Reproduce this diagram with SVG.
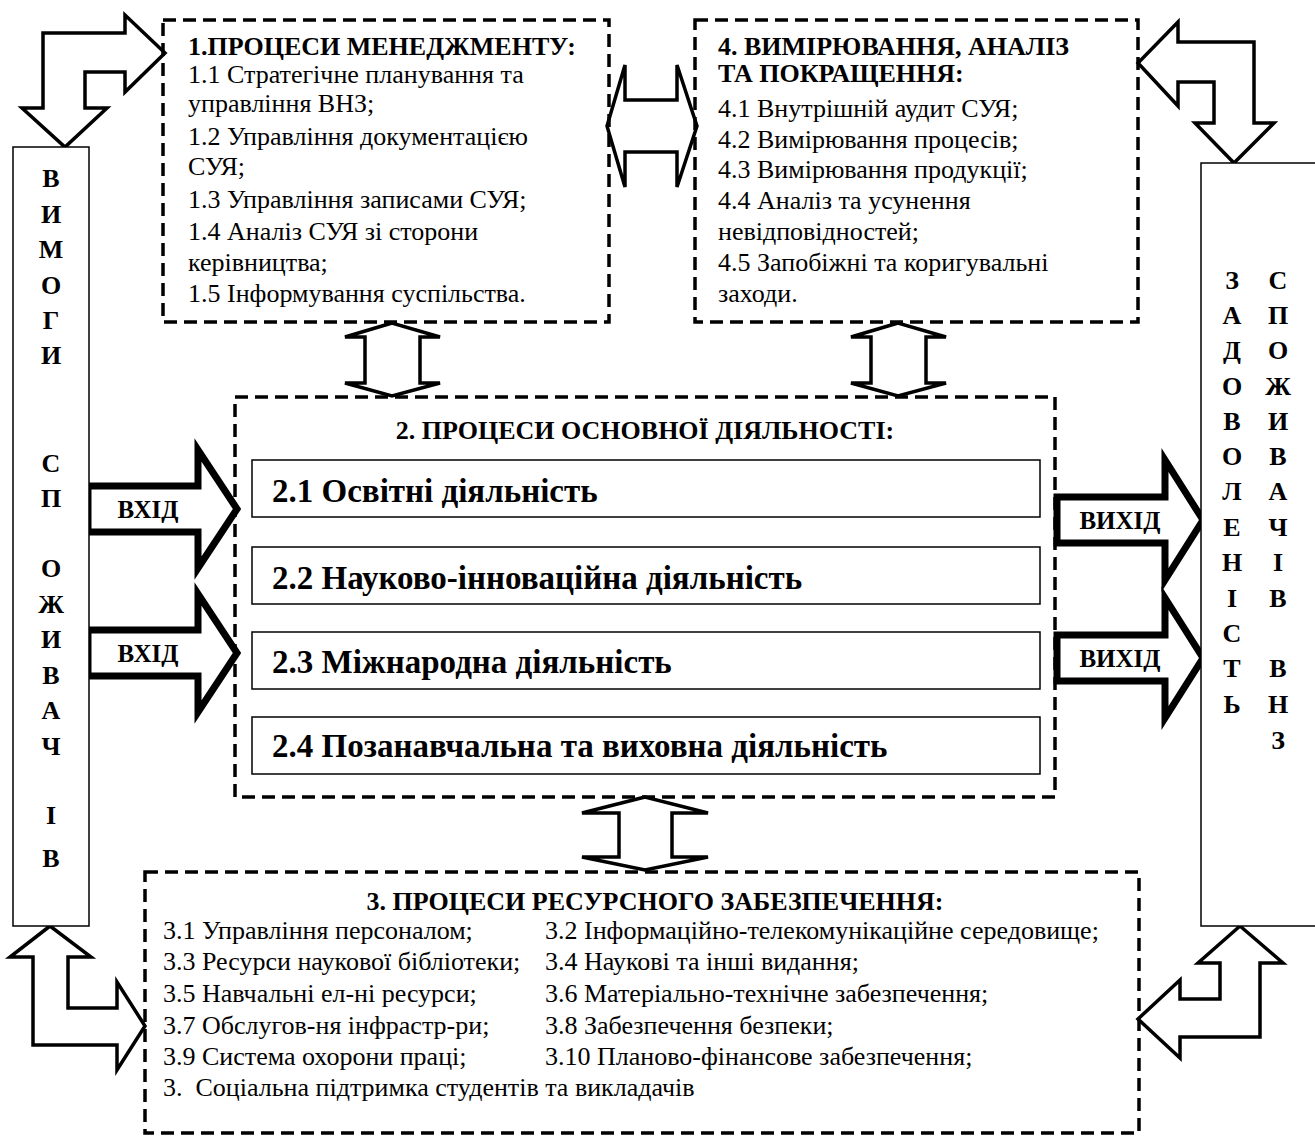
<svg xmlns="http://www.w3.org/2000/svg" width="1315" height="1141" viewBox="0 0 1315 1141">
<style>
.dash{fill:none;stroke:#000;stroke-width:3.5;stroke-dasharray:13 7}
.box{fill:#fff;stroke:#000;stroke-width:1.5}
.arr{fill:#fff;stroke:#000;stroke-width:3.5;stroke-linejoin:miter}
.thick{fill:#fff;stroke:#000;stroke-width:7;stroke-linejoin:miter}
text{font-family:"Liberation Serif","Times New Roman",serif;fill:#000}
.t{font-size:26px}
.b{font-size:26px;font-weight:bold}
.big{font-size:33px;font-weight:bold}
.v{font-size:26px;font-weight:bold;text-anchor:middle}
.arlbl{font-size:25px;font-weight:bold;text-anchor:middle}
</style>
<rect width="1315" height="1141" fill="#fff"/>

<g id="connectors">
  <path class="arr" d="M43,33 H125 V15 L165,53 L125,92 V72 H85 V108 H107 L65,147 L22,108 H43 Z"/>
  <path class="arr" d="M1178,22 L1138,63 L1178,106 V82 H1214 V123 H1195 L1234,163 L1274,123 H1254 V42 H1178 Z"/>
  <path class="arr" d="M50,926 L10,957 H33 V1045 H117 V1070 L145,1026 L117,982 V1008 H68 V957 H91 Z"/>
  <path class="arr" d="M1240,926 L1283,963 H1260 V1037 H1180 V1058 L1138,1019 L1180,980 V999 H1220 V963 H1198 Z"/>
  <path class="arr" d="M607,126 L625,65 V100 H677 V65 L697,126 L677,187 V152 H625 V187 Z"/>
  <path class="arr" d="M392,323 L345,337 H365 V383 H345 L392,396 L440,383 H420 V337 H440 Z"/>
  <path class="arr" d="M898,323 L851,337 H871 V383 H851 L898,396 L946,383 H926 V337 H946 Z"/>
  <path class="arr" d="M645,797 L582,813 H619 V857 H582 L645,870 L708,857 H672 V813 H708 Z"/>
  <path class="thick" d="M88,486 H198 V450 L237,509 L198,568 V532 H88 Z"/>
  <path class="thick" d="M88,630 H198 V594 L237,653 L198,712 V676 H88 Z"/>
  <path class="thick" d="M1057,497 H1165 V460 L1203,520 L1165,580 V543 H1057 Z"/>
  <path class="thick" d="M1057,635 H1165 V598 L1203,658 L1165,718 V681 H1057 Z"/>
  <text class="arlbl" x="148" y="518">ВХІД</text>
  <text class="arlbl" x="148" y="662">ВХІД</text>
  <text class="arlbl" x="1120" y="529">ВИХІД</text>
  <text class="arlbl" x="1120" y="667">ВИХІД</text>
</g>

<g id="node-customers-req">
  <rect class="box" x="13" y="147" width="76" height="779"/>
  <text class="v" x="51" y="187">В</text>
  <text class="v" x="51" y="223">И</text>
  <text class="v" x="51" y="258">М</text>
  <text class="v" x="51" y="294">О</text>
  <text class="v" x="51" y="329">Г</text>
  <text class="v" x="51" y="364">И</text>
  <text class="v" x="51" y="472">С</text>
  <text class="v" x="51" y="507">П</text>
  <text class="v" x="51" y="577">О</text>
  <text class="v" x="51" y="613">Ж</text>
  <text class="v" x="51" y="648">И</text>
  <text class="v" x="51" y="684">В</text>
  <text class="v" x="51" y="719">А</text>
  <text class="v" x="51" y="755">Ч</text>
  <text class="v" x="51" y="824">І</text>
  <text class="v" x="51" y="867">В</text>
</g>

<g id="node-satisfaction">
  <rect class="box" x="1201" y="163" width="130" height="763"/>
  <text class="v" x="1232" y="289">З</text><text class="v" x="1278" y="289">С</text>
  <text class="v" x="1232" y="324">А</text><text class="v" x="1278" y="324">П</text>
  <text class="v" x="1232" y="359">Д</text><text class="v" x="1278" y="359">О</text>
  <text class="v" x="1232" y="395">О</text><text class="v" x="1278" y="395">Ж</text>
  <text class="v" x="1232" y="430">В</text><text class="v" x="1278" y="430">И</text>
  <text class="v" x="1232" y="465">О</text><text class="v" x="1278" y="465">В</text>
  <text class="v" x="1232" y="500">Л</text><text class="v" x="1278" y="500">А</text>
  <text class="v" x="1232" y="536">Е</text><text class="v" x="1278" y="536">Ч</text>
  <text class="v" x="1232" y="571">Н</text><text class="v" x="1278" y="571">І</text>
  <text class="v" x="1232" y="607">І</text><text class="v" x="1278" y="607">В</text>
  <text class="v" x="1232" y="642">С</text>
  <text class="v" x="1232" y="677">Т</text><text class="v" x="1278" y="677">В</text>
  <text class="v" x="1232" y="713">Ь</text><text class="v" x="1278" y="713">Н</text>
  <text class="v" x="1278" y="749">З</text>
</g>

<g id="node-management">
  <rect class="dash" x="163" y="20" width="446" height="302"/>
  <text class="b" x="188" y="55">1.ПРОЦЕСИ МЕНЕДЖМЕНТУ:</text>
  <text class="t" x="188" y="83">1.1 Стратегічне планування та</text>
  <text class="t" x="188" y="112">управління ВНЗ;</text>
  <text class="t" x="188" y="145">1.2 Управління документацією</text>
  <text class="t" x="188" y="175">СУЯ;</text>
  <text class="t" x="188" y="208">1.3 Управління записами СУЯ;</text>
  <text class="t" x="188" y="240">1.4 Аналіз СУЯ зі сторони</text>
  <text class="t" x="188" y="271">керівництва;</text>
  <text class="t" x="188" y="302">1.5 Інформування суспільства.</text>
</g>

<g id="node-measurement">
  <rect class="dash" x="695" y="20" width="443" height="302"/>
  <text class="b" x="718" y="55">4. ВИМІРЮВАННЯ, АНАЛІЗ</text>
  <text class="b" x="718" y="82">ТА ПОКРАЩЕННЯ:</text>
  <text class="t" x="718" y="117">4.1 Внутрішній аудит СУЯ;</text>
  <text class="t" x="718" y="148">4.2 Вимірювання процесів;</text>
  <text class="t" x="718" y="178">4.3 Вимірювання продукції;</text>
  <text class="t" x="718" y="209">4.4 Аналіз та усунення</text>
  <text class="t" x="718" y="240">невідповідностей;</text>
  <text class="t" x="718" y="271">4.5 Запобіжні та коригувальні</text>
  <text class="t" x="718" y="302">заходи.</text>
</g>

<g id="node-core">
  <rect class="dash" x="235" y="397" width="820" height="400"/>
  <text class="b" x="645" y="439" text-anchor="middle">2. ПРОЦЕСИ ОСНОВНОЇ ДІЯЛЬНОСТІ:</text>
  <g id="node-2-1"><rect class="box" x="252" y="460" width="788" height="57"/><text class="big" x="272" y="502">2.1 Освітні діяльність</text></g>
  <g id="node-2-2"><rect class="box" x="252" y="547" width="788" height="57"/><text class="big" x="272" y="589">2.2 Науково-інноваційна діяльність</text></g>
  <g id="node-2-3"><rect class="box" x="252" y="632" width="788" height="57"/><text class="big" x="272" y="673">2.3 Міжнародна діяльність</text></g>
  <g id="node-2-4"><rect class="box" x="252" y="717" width="788" height="57"/><text class="big" x="272" y="757">2.4 Позанавчальна та виховна діяльність</text></g>
</g>

<g id="node-resources">
  <rect class="dash" x="145" y="872" width="994" height="261"/>
  <text class="b" x="655" y="910" text-anchor="middle">3. ПРОЦЕСИ РЕСУРСНОГО ЗАБЕЗПЕЧЕННЯ:</text>
  <text class="t" x="163" y="939">3.1 Управління персоналом;</text>
  <text class="t" x="545" y="939">3.2 Інформаційно-телекомунікаційне середовище;</text>
  <text class="t" x="163" y="970">3.3 Ресурси наукової бібліотеки;</text>
  <text class="t" x="545" y="970">3.4 Наукові та інші видання;</text>
  <text class="t" x="163" y="1002">3.5 Навчальні ел-ні ресурси;</text>
  <text class="t" x="545" y="1002">3.6 Матеріально-технічне забезпечення;</text>
  <text class="t" x="163" y="1034">3.7 Обслугов-ня інфрастр-ри;</text>
  <text class="t" x="545" y="1034">3.8  Забезпечення безпеки;</text>
  <text class="t" x="163" y="1065">3.9 Система охорони праці;</text>
  <text class="t" x="545" y="1065">3.10 Планово-фінансове забезпечення;</text>
  <text class="t" x="163" y="1096" xml:space="preserve">3.  Соціальна підтримка студентів та викладачів</text>
</g>
</svg>
